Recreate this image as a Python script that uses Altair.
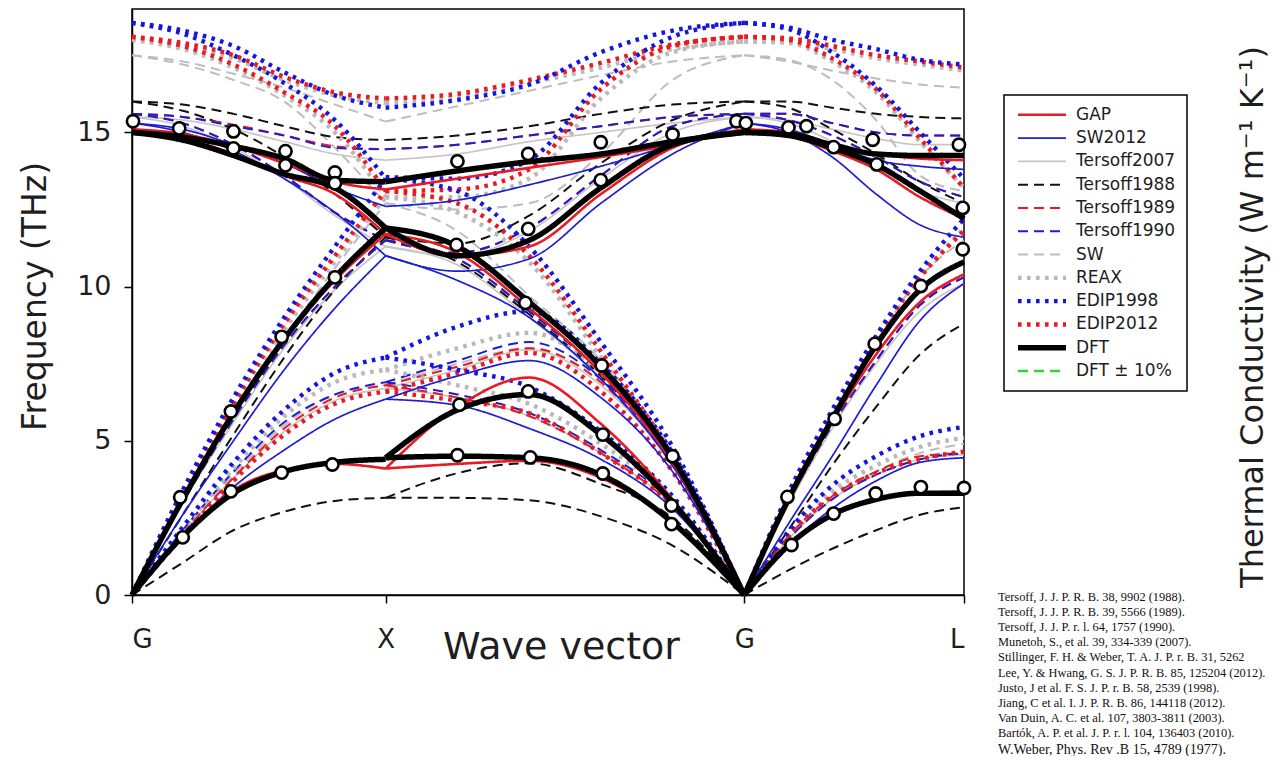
import altair as alt
import pandas as pd

# ---------------- data ----------------
MODELS = ["GAP", "SW2012", "Tersoff2007", "Tersoff1988", "Tersoff1989", "Tersoff1990",
          "SW", "REAX", "EDIP1998", "EDIP2012", "DFT", "DFT ± 10%"]

TICK_POS = [0.0, 1.0, 2.414, 3.280]          # G, X, G, L along the path
TICK_LABELS = ["G", "X", "G", "L"]
SEG_START = [0.0, 1.0, 2.414]
SEG_END = [1.0, 2.414, 3.280]
FRAC = [0.0, 0.2, 0.4, 0.6, 0.8, 1.0]        # sample fractions along each segment

# DFT (thick black)
DFT_GX = [[0, 1.9, 3.3, 4.0, 4.3, 4.4], [0, 3.1, 5.9, 8.3, 10.3, 11.9],
          [15.0, 14.75, 14.25, 13.65, 13.2, 11.9], [15.0, 14.85, 14.55, 14.15, 13.45, 13.4]]
DFT_XG = [[4.45, 4.5, 4.45, 3.9, 2.35, 0], [4.45, 6.0, 6.5, 5.2, 3.0, 0],
          [11.9, 11.3, 9.5, 7.4, 4.45, 0], [11.9, 11.0, 11.5, 13.2, 14.6, 15.0],
          [13.4, 13.75, 14.05, 14.3, 14.7, 15.0]]
DFT_GL = [[0, 1.6, 2.6, 3.1, 3.3, 3.3], [0, 3.1, 5.7, 8.1, 9.9, 10.8],
          [15.0, 14.9, 14.5, 13.95, 13.1, 12.2], [15.0, 14.95, 14.6, 14.3, 14.25, 14.25]]
# GAP
GAP_GX = [[0, 1.9, 3.4, 4.05, 4.25, 4.1], [0, 3.1, 5.9, 8.3, 10.2, 11.7],
          [15.1, 14.8, 14.3, 13.6, 13.0, 11.7], [15.1, 14.95, 14.55, 14.0, 13.4, 13.15]]
GAP_XG = [[4.1, 4.25, 4.35, 3.8, 2.35, 0], [4.1, 6.1, 7.05, 5.55, 3.1, 0],
          [11.7, 11.1, 9.3, 7.2, 4.3, 0], [11.7, 11.0, 11.3, 13.0, 14.5, 15.1],
          [13.15, 13.5, 13.85, 14.2, 14.6, 15.1]]
GAP_GL = [[0, 1.6, 2.6, 3.1, 3.3, 3.35], [0, 3.0, 5.6, 7.8, 9.5, 10.4],
          [15.1, 14.9, 14.4, 13.8, 12.9, 12.2], [15.1, 15.0, 14.6, 14.3, 14.15, 14.1]]
# SW2012
SW12_GX = [[0, 1.9, 3.5, 4.7, 5.7, 6.35], [0, 2.6, 5.0, 7.3, 9.3, 11.0],
           [15.3, 15.0, 14.4, 13.5, 12.4, 11.0], [15.3, 15.1, 14.6, 14.0, 13.2, 12.6]]
SW12_XG = [[6.35, 6.15, 5.4, 4.4, 2.8, 0], [6.35, 7.1, 7.6, 6.4, 4.0, 0],
           [11.0, 10.2, 9.0, 7.0, 4.2, 0], [11.0, 10.5, 10.9, 12.7, 14.3, 15.3],
           [12.6, 12.8, 13.3, 13.9, 14.6, 15.3]]
SW12_GL = [[0, 1.6, 2.8, 3.7, 4.3, 4.45], [0, 2.3, 4.5, 6.8, 8.9, 10.1],
           [15.3, 15.0, 14.2, 13.0, 12.0, 11.6], [15.3, 15.1, 14.6, 14.1, 13.9, 13.8]]
# Tersoff2007
T07_GX = [[0, 2.0, 3.8, 5.3, 6.3, 6.7], [0, 3.0, 5.6, 8.0, 9.9, 11.3],
          [15.5, 15.2, 14.5, 13.5, 12.3, 11.3], [15.5, 15.4, 15.1, 14.7, 14.3, 14.1]]
T07_XG = [[6.7, 6.4, 5.8, 4.6, 2.9, 0], [6.7, 7.3, 7.95, 6.8, 4.2, 0],
          [11.3, 10.7, 9.0, 7.0, 4.3, 0], [11.3, 11.0, 11.8, 13.5, 15.0, 15.5],
          [14.1, 14.3, 14.7, 15.0, 15.3, 15.5]]
T07_GL = [[0, 1.8, 3.1, 3.9, 4.4, 4.55], [0, 2.9, 5.4, 7.5, 9.2, 10.1],
          [15.5, 15.3, 14.7, 13.9, 13.1, 12.7], [15.5, 15.4, 15.1, 14.8, 14.6, 14.6]]
# Tersoff1988
T88_GX = [[0, 1.05, 2.1, 2.7, 3.05, 3.15], [0, 2.6, 5.2, 7.7, 9.9, 11.6],
          [16.0, 15.7, 15.1, 14.2, 13.0, 11.6], [16.0, 15.9, 15.6, 15.2, 14.85, 14.75]]
T88_XG = [[3.15, 3.15, 3.07, 2.55, 1.6, 0], [3.15, 3.95, 4.27, 3.6, 2.5, 0],
          [11.6, 10.8, 9.1, 7.1, 4.4, 0], [11.6, 11.4, 12.3, 14.0, 15.4, 16.0],
          [14.75, 14.9, 15.2, 15.6, 15.9, 16.0]]
T88_GL = [[0, 0.8, 1.5, 2.1, 2.6, 2.85], [0, 2.1, 4.2, 6.1, 7.8, 8.8],
          [16.0, 15.8, 15.1, 14.3, 13.4, 12.7], [16.0, 16.0, 15.8, 15.6, 15.5, 15.45]]
# Tersoff1989
T89_GX = [[0, 2.0, 3.8, 5.4, 6.4, 6.8], [0, 3.0, 5.7, 8.1, 10.0, 11.5],
          [15.6, 15.3, 14.6, 13.6, 12.4, 11.5], [15.6, 15.5, 15.25, 14.9, 14.55, 14.45]]
T89_XG = [[6.8, 6.4, 5.8, 4.6, 2.9, 0], [6.8, 7.4, 8.0, 6.9, 4.2, 0],
          [11.5, 10.9, 9.2, 7.2, 4.4, 0], [11.5, 11.1, 11.9, 13.6, 15.2, 15.6],
          [14.45, 14.6, 14.9, 15.2, 15.5, 15.6]]
T89_GL = [[0, 1.9, 3.2, 4.0, 4.5, 4.6], [0, 3.0, 5.5, 7.6, 9.4, 10.3],
          [15.6, 15.4, 14.9, 14.2, 13.4, 12.9], [15.6, 15.6, 15.3, 15.0, 14.9, 14.9]]
# Tersoff1990
T90_GX = [[0, 2.1, 4.0, 5.6, 6.5, 6.9], [0, 3.0, 5.7, 8.1, 10.0, 11.5],
          [15.6, 15.3, 14.6, 13.6, 12.4, 11.5], [15.6, 15.5, 15.2, 14.9, 14.5, 14.45]]
T90_XG = [[6.9, 6.5, 5.9, 4.7, 3.0, 0], [6.9, 7.6, 8.2, 7.0, 4.3, 0],
          [11.5, 10.9, 9.2, 7.2, 4.4, 0], [11.5, 11.1, 11.9, 13.6, 15.2, 15.6],
          [14.45, 14.6, 14.9, 15.2, 15.5, 15.6]]
T90_GL = [[0, 1.8, 3.1, 3.9, 4.4, 4.6], [0, 3.0, 5.5, 7.6, 9.4, 10.3],
          [15.6, 15.4, 14.9, 14.2, 13.4, 12.9], [15.6, 15.6, 15.3, 15.0, 14.9, 14.9]]
# SW
SW_GX = [[0, 2.0, 3.9, 5.5, 6.5, 6.8], [0, 3.0, 5.8, 8.3, 10.6, 12.7],
         [17.5, 17.2, 16.7, 16.0, 14.5, 12.7], [17.5, 17.3, 16.9, 16.45, 15.9, 15.35]]
SW_XG = [[6.8, 6.4, 5.8, 4.6, 2.9, 0], [6.8, 7.5, 8.0, 6.9, 4.2, 0],
         [12.7, 11.8, 9.7, 7.6, 4.6, 0], [12.7, 12.5, 12.7, 14.3, 16.7, 17.5],
         [15.35, 15.85, 16.35, 16.85, 17.3, 17.5]]
SW_GL = [[0, 1.8, 3.1, 4.0, 4.6, 4.9], [0, 3.1, 5.8, 8.2, 10.3, 11.5],
         [17.5, 17.35, 16.7, 15.4, 13.6, 13.1], [17.5, 17.3, 17.0, 16.75, 16.55, 16.45]]
# REAX
REAX_GX = [[0, 2.1, 4.1, 5.8, 6.9, 7.3], [0, 3.2, 6.1, 8.6, 10.8, 12.9],
           [18.0, 17.7, 17.1, 16.2, 15.0, 12.9], [18.0, 17.8, 17.4, 16.7, 16.2, 15.95]]
REAX_XG = [[7.3, 6.8, 6.2, 4.9, 3.1, 0], [7.3, 8.0, 8.5, 7.2, 4.4, 0],
           [12.9, 12.4, 10.8, 7.7, 4.4, 0], [12.9, 12.9, 13.5, 16.1, 17.6, 17.95],
           [15.95, 16.15, 16.6, 17.1, 17.7, 17.95]]
REAX_GL = [[0, 1.95, 3.35, 4.2, 4.8, 5.1], [0, 3.2, 5.9, 8.3, 10.3, 11.9],
           [17.95, 17.9, 17.3, 16.3, 14.7, 13.2], [17.95, 17.95, 17.7, 17.4, 17.2, 17.0]]
# EDIP1998
E98_GX = [[0, 2.2, 4.3, 6.0, 7.2, 7.7], [0, 3.4, 6.4, 9.0, 11.3, 13.5],
          [18.55, 18.2, 17.5, 16.6, 15.4, 13.5], [18.55, 18.3, 17.8, 16.95, 16.2, 15.8]]
E98_XG = [[7.7, 7.3, 6.75, 5.3, 3.2, 0], [7.7, 8.7, 9.2, 7.5, 4.6, 0],
          [13.5, 13.1, 11.3, 8.2, 4.8, 0], [13.55, 13.5, 14.1, 16.6, 18.1, 18.55],
          [15.8, 16.05, 16.55, 17.6, 18.3, 18.55]]
E98_GL = [[0, 2.05, 3.55, 4.5, 5.15, 5.45], [0, 3.3, 6.0, 8.4, 10.5, 12.2],
          [18.55, 18.35, 17.6, 16.5, 15.0, 13.5], [18.55, 18.4, 18.0, 17.7, 17.35, 17.2]]
# EDIP2012
E12_GX = [[0, 1.9, 3.7, 5.2, 6.2, 6.6], [0, 3.3, 6.2, 8.8, 11.0, 13.1],
          [18.1, 17.8, 17.2, 16.3, 15.2, 13.1], [18.1, 17.9, 17.5, 16.8, 16.3, 16.1]]
E12_XG = [[6.6, 6.3, 5.9, 4.6, 2.9, 0], [6.6, 7.2, 7.85, 6.6, 4.0, 0],
          [13.1, 12.7, 11.0, 7.9, 4.5, 0], [13.1, 13.15, 13.8, 16.4, 17.8, 18.1],
          [16.1, 16.25, 16.7, 17.25, 17.85, 18.1]]
E12_GL = [[0, 1.9, 3.2, 3.95, 4.4, 4.65], [0, 3.2, 5.9, 8.3, 10.3, 11.8],
          [18.1, 18.0, 17.4, 16.4, 14.8, 13.2], [18.1, 18.05, 17.8, 17.5, 17.3, 17.1]]

# experimental points (open circles)
EXP_Q = [0.004, 0.186, 0.40, 0.40, 0.605, 0.605, 0.80, 0.80,
         0.20, 0.39, 0.59, 0.79, 0.19, 0.39, 0.59, 0.80,
         1.283, 1.562, 1.848, 2.131, 2.383, 2.42,
         1.562, 1.848, 1.279, 1.551, 1.852, 2.131,
         1.291, 1.562, 1.856, 2.127, 1.283, 1.570, 1.856, 2.127,
         2.588, 2.659, 2.766, 2.920, 2.936, 3.260, 3.275, 3.275,
         2.600, 2.584, 2.766, 2.770, 2.928, 2.932, 3.110, 3.110, 3.280]
EXP_F = [15.36, 15.13, 15.03, 14.48, 14.39, 13.93, 13.70, 13.35,
         1.87, 3.36, 3.97, 4.23, 3.17, 5.95, 8.37, 10.30,
         14.06, 14.30, 14.68, 14.93, 15.36, 15.30,
         11.87, 13.45, 11.35, 9.47, 7.44, 4.50,
         6.17, 6.60, 5.20, 2.90, 4.53, 4.46, 3.94, 2.30,
         15.16, 15.20, 14.52, 14.76, 13.96, 14.60, 12.55, 11.21,
         1.62, 3.18, 2.64, 5.71, 8.14, 3.29, 3.50, 10.02, 3.47]

REFERENCES = [
    "Tersoff, J. J. P. R. B.  38, 9902 (1988).",
    "Tersoff, J. J. P. R. B.  39, 5566 (1989).",
    "Tersoff, J. J. P. r. l.  64, 1757 (1990).",
    "Munetoh, S., et al.  39, 334-339 (2007).",
    "Stillinger, F. H. & Weber, T. A. J. P. r. B.  31, 5262",
    "Lee, Y. & Hwang, G. S. J. P. R. B.  85, 125204 (2012).",
    "Justo, J et al. F. S. J. P. r. B.  58, 2539 (1998).",
    "Jiang, C et al. I. J. P. R. B.  86, 144118 (2012).",
    "Van Duin, A. C. et al.  107, 3803-3811 (2003).",
    "Bartók, A. P. et al. J. P. r. l.  104, 136403 (2010).",
]
REFERENCE_LAST = "W.Weber, Phys. Rev .B 15, 4789 (1977)."
RIGHT_LABEL = "Thermal Conductivity (W m⁻¹ K⁻¹)"

BRANCHES = {
    "DFT": (DFT_GX, DFT_XG, DFT_GL), "GAP": (GAP_GX, GAP_XG, GAP_GL),
    "SW2012": (SW12_GX, SW12_XG, SW12_GL), "Tersoff2007": (T07_GX, T07_XG, T07_GL),
    "Tersoff1988": (T88_GX, T88_XG, T88_GL), "Tersoff1989": (T89_GX, T89_XG, T89_GL),
    "Tersoff1990": (T90_GX, T90_XG, T90_GL), "SW": (SW_GX, SW_XG, SW_GL),
    "REAX": (REAX_GX, REAX_XG, REAX_GL), "EDIP1998": (E98_GX, E98_XG, E98_GL),
    "EDIP2012": (E12_GX, E12_XG, E12_GL),
}

# ---------------- styles ----------------
COLORS = ["#ea1a22", "#1d1dd2", "#c6c6c6", "#111111", "#ea1a22", "#1d1dd2",
          "#bdbdbd", "#b9b9b9", "#1515e0", "#ea1a22", "#000000", "#2ad62a"]
DASHES = [[1, 0], [1, 0], [1, 0], [10, 6], [10, 6], [10, 6], [10, 6],
          [3.6, 5.4], [3.6, 5.4], [3.6, 5.4], [1, 0], [10, 6]]
WIDTHS = [2.6, 1.7, 1.7, 2.0, 2.0, 2.0, 2.0, 4.4, 4.4, 4.4, 5.5, 2.4]
DRAW_ORDER = ["Tersoff2007", "SW", "Tersoff1988", "Tersoff1989", "Tersoff1990",
              "REAX", "EDIP2012", "EDIP1998", "SW2012", "GAP", "DFT"]
FONT = "DejaVu Sans"
TEXT = "#1e1e1e"

rows = []
for m, segs in BRANCHES.items():
    for si, seg in enumerate(segs):
        a, b = SEG_START[si], SEG_END[si]
        for bi, br in enumerate(seg):
            for f, v in zip(FRAC, br):
                rows.append({"model": m, "key": f"{m}-{si}-{bi}", "q": a + f * (b - a), "f": v})
df = pd.DataFrame(rows)
exp_df = pd.DataFrame({"q": EXP_Q, "f": EXP_F})

label_expr = " : ".join(
    f"datum.value < {p + 0.05} ? '{l}'" for p, l in zip(TICK_POS[:-1], TICK_LABELS[:-1])
) + f" : '{TICK_LABELS[-1]}'"

x_enc = alt.X("q:Q", scale=alt.Scale(domain=[0, 3.28], nice=False, zero=False),
              axis=alt.Axis(values=TICK_POS, labelExpr=label_expr, title="Wave vector",
                            labelFontSize=26, labelPadding=44, labelBaseline="alphabetic",
                            titleFontSize=38, titleX=429, titleY=63,
                            titleBaseline="alphabetic", grid=False))
y_enc = alt.Y("f:Q", scale=alt.Scale(domain=[0, 19], nice=False),
              axis=alt.Axis(values=[0, 5, 10, 15], title="Frequency (THz)",
                            labelFontSize=27, labelPadding=13, titleFontSize=33,
                            titleX=-97, titleY=287, titleBaseline="middle",
                            titleAlign="center", grid=False))

legend = alt.Legend(title=None, orient="none", legendX=872, legendY=86,
                    symbolType="stroke", symbolSize=2304, labelFontSize=17,
                    labelFont=FONT, labelColor=TEXT, padding=11, rowPadding=4.3,
                    clipHeight=17.5, labelOffset=7, strokeColor="black",
                    fillColor="white")
color = alt.Color("model:N", scale=alt.Scale(domain=MODELS, range=COLORS), legend=legend)
dash = alt.StrokeDash("model:N", scale=alt.Scale(domain=MODELS, range=DASHES), legend=legend)
width = alt.StrokeWidth("model:N", scale=alt.Scale(type="ordinal", domain=MODELS, range=WIDTHS),
                        legend=legend)

layers = []
for m in DRAW_ORDER:
    layers.append(
        alt.Chart(df[df.model == m]).mark_line(interpolate="monotone", strokeJoin="round")
        .encode(x=x_enc, y=y_enc, detail="key:N", color=color, strokeDash=dash,
                strokeWidth=width)
    )

points = alt.Chart(exp_df).mark_point(shape="circle", filled=True, fill="white",
                                      stroke="black", strokeWidth=2.6, size=150,
                                      opacity=1).encode(x=x_enc, y=y_enc)

right_text = alt.Chart(pd.DataFrame({"t": [RIGHT_LABEL]})).mark_text(
    angle=270, align="center", baseline="middle", fontSize=32, font=FONT, color=TEXT
).encode(text="t:N", x=alt.value(1121), y=alt.value(308))

refs = alt.Chart(pd.DataFrame({"t": ["\n".join(REFERENCES)]})).mark_text(
    align="left", baseline="top", lineBreak="\n", lineHeight=15.1, fontSize=12.4,
    font="Liberation Serif", color="#111111"
).encode(text="t:N", x=alt.value(866), y=alt.value(582))

ref_last = alt.Chart(pd.DataFrame({"t": [REFERENCE_LAST]})).mark_text(
    align="left", baseline="middle", fontSize=14, font="Liberation Serif", color="#111111"
).encode(text="t:N", x=alt.value(866), y=alt.value(741))

chart = alt.layer(*layers, points, right_text, refs, ref_last).properties(
    width=832, height=586,
    autosize=alt.AutoSizeParams(type="none"),
    padding={"left": 124, "top": 1, "right": 310, "bottom": 161},
).configure_view(stroke="black", strokeWidth=1.5).configure_axis(
    domainColor="black", domainWidth=1.5, tickColor="black", tickWidth=1.5, tickSize=8,
    labelFont=FONT, titleFont=FONT, labelColor=TEXT, titleColor=TEXT,
    titleFontWeight="normal"
).configure_legend(strokeWidth=1.5)

chart.save("out.html", embed_options={"renderer": "svg", "actions": False})
